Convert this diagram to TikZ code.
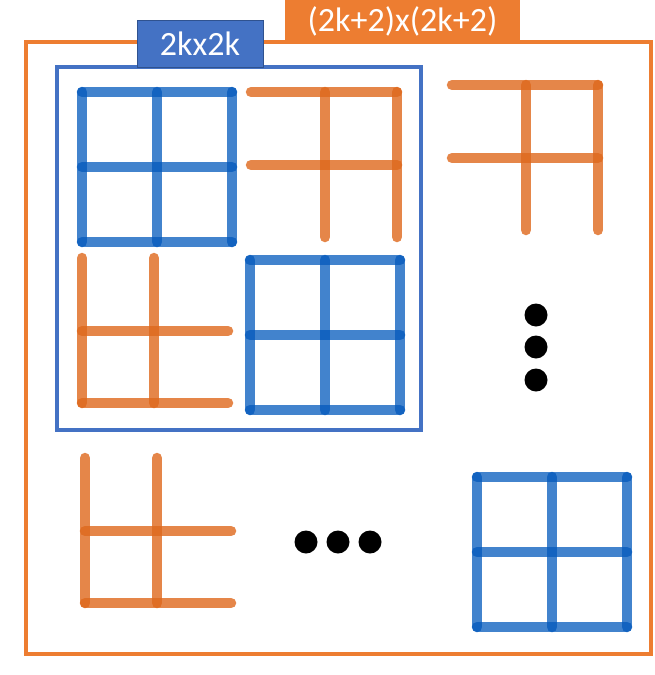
\documentclass[tikz,border=0pt]{standalone}
\usepackage{fontspec}
\setmainfont{Carlito}
\definecolor{frameorange}{RGB}{237,125,49}
\definecolor{frameblue}{RGB}{68,114,196}
\definecolor{tagborder}{RGB}{47,82,143}
\definecolor{cellblue}{RGB}{3,89,188}
\definecolor{cellorange}{RGB}{222,104,28}
\tikzset{
  outerframe/.style={line width=4pt,draw=frameorange},
  innerframe/.style={line width=4pt,draw=frameblue},
  outertag/.style={fill=frameorange,text=white,minimum width=235pt,minimum height=42pt,inner sep=0pt,font=\fontsize{34}{36}\selectfont},
  innertag/.style={fill=frameblue,draw=tagborder,line width=1pt,text=white,minimum width=126pt,minimum height=47pt,inner sep=0pt,font=\fontsize{34}{36}\selectfont},
  bluecell/.style={line width=10.5pt,draw=cellblue,draw opacity=.75,line cap=round,line join=round},
  orangecell/.style={line width=10.5pt,draw=cellorange,draw opacity=.8,line cap=round},
  bigdot/.style={circle,fill=black,inner sep=0pt,minimum size=23pt}
}
% 2x2 square of blue lines, corner at #1,#2
\newcommand{\bluesquare}[2]{
  \foreach \t in {0,75,150}{
    \draw[bluecell] (#1+\t,#2)--(#1+\t,#2+150);
    \draw[bluecell] (#1,#2+\t)--(#1+150,#2+\t);
  }
}
% orange piece, open at the lower left
\newcommand{\orangeupper}[2]{
  \draw[orangecell] (#1,#2)--(#1+146,#2); \draw[orangecell] (#1,#2+73)--(#1+146,#2+73);
  \draw[orangecell] (#1+74,#2)--(#1+74,#2+145); \draw[orangecell] (#1+146,#2)--(#1+146,#2+145);
}
% orange piece, open at the upper right
\newcommand{\orangelower}[2]{
  \draw[orangecell] (#1,#2)--(#1,#2+145); \draw[orangecell] (#1+72,#2)--(#1+72,#2+145);
  \draw[orangecell] (#1,#2+73)--(#1+146,#2+73); \draw[orangecell] (#1,#2+145)--(#1+146,#2+145);
}

\begin{document}
\begin{tikzpicture}[x=1pt,y=-1pt]
  \useasboundingbox (0,0) rectangle (654,675);
  \draw[outerframe] (26,42) rectangle (651,654);
  \node[outertag] (bigtag) at (402.5,21) {(2k+2)x(2k+2)};
  \draw[innerframe] (57,67) rectangle (421,430);
  \node[innertag] (smalltag) at (200,43.5) {2kx2k};
  \bluesquare{82}{92}
  \bluesquare{250}{260}
  \bluesquare{477}{477}
  \orangeupper{251}{92}
  \orangeupper{452}{85}
  \orangelower{82}{258}
  \orangelower{85}{458}
  \foreach \y/\n in {315/1,347/2,380/3} \node[bigdot] (vdot\n) at (536,\y) {};
  \foreach \x/\n in {306/1,338/2,370/3} \node[bigdot] (hdot\n) at (\x,542) {};
\end{tikzpicture}
\end{document}
